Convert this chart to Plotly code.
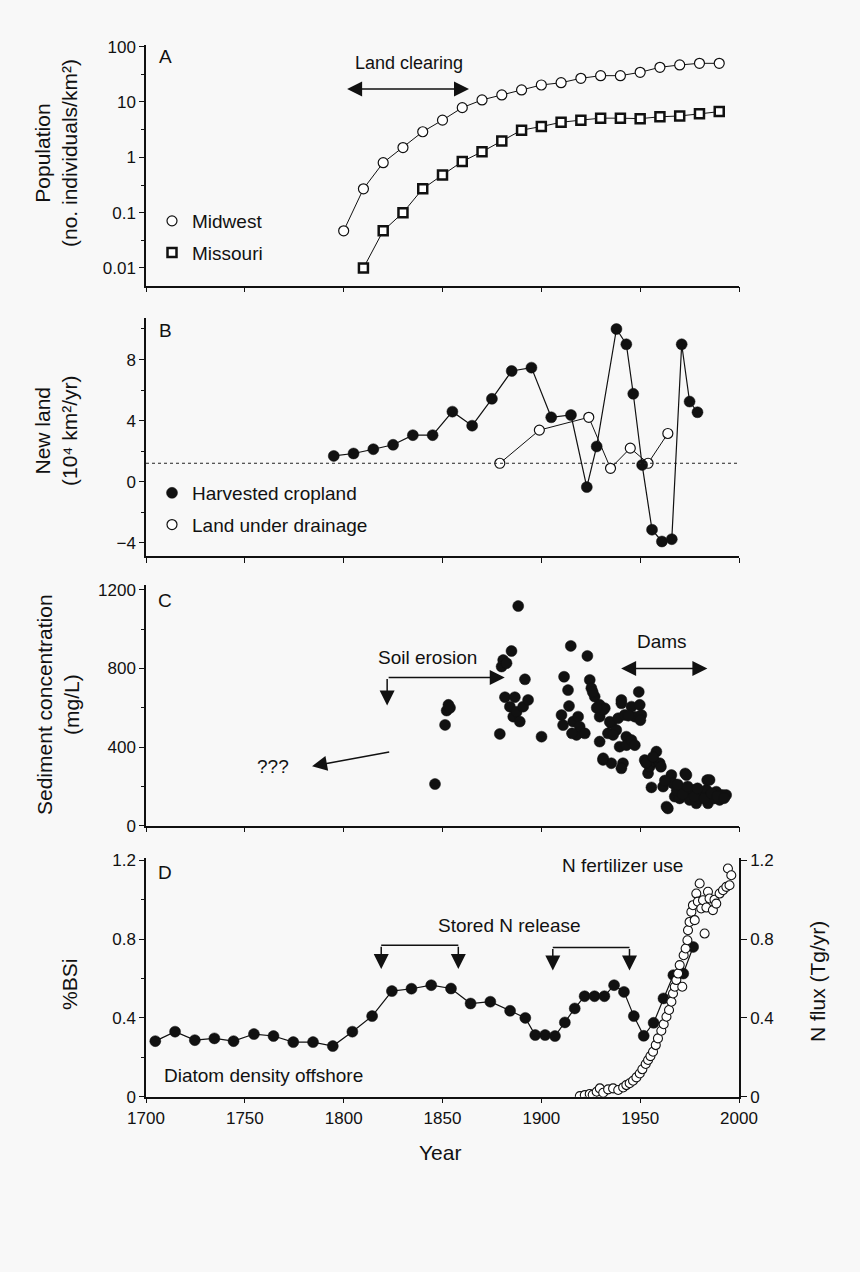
import plotly.graph_objects as go

# ---------------- DATA ----------------
# Panel A: population density (no. individuals / km2)
mw_years = [1800, 1810, 1820, 1830, 1840, 1850, 1860, 1870, 1880, 1890,
            1900, 1910, 1920, 1930, 1940, 1950, 1960, 1970, 1980, 1990]
mw_pop = [0.047, 0.27, 0.80, 1.5, 2.9, 4.7, 7.9, 10.9, 13.4, 16.5,
          20.3, 22.3, 26.8, 29.9, 29.9, 34.4, 42.4, 46.7, 50, 50]
mo_years = [1810, 1820, 1830, 1840, 1850, 1860, 1870, 1880, 1890, 1900,
            1910, 1920, 1930, 1940, 1950, 1960, 1970, 1980, 1990]
mo_pop = [0.01, 0.047, 0.1, 0.27, 0.48, 0.84, 1.26, 1.97, 3.1, 3.6,
          4.3, 4.7, 5.1, 5.1, 5.0, 5.4, 5.6, 6.1, 6.7]

# Panel B: new land (10^4 km2/yr)
crop_years = [1795, 1805, 1815, 1825, 1835, 1845, 1855, 1865, 1875, 1885, 1895,
              1905, 1915, 1923, 1928, 1938, 1943, 1946.5, 1951, 1956, 1961, 1966,
              1971, 1975, 1979]
crop_vals = [1.69, 1.85, 2.13, 2.42, 3.05, 3.05, 4.59, 3.67, 5.43, 7.25, 7.47,
             4.22, 4.37, -0.35, 2.31, 10.0, 9.0, 5.76, 1.1, -3.14, -3.91, -3.76,
             9.0, 5.25, 4.55]
drain_years = [1879, 1899, 1924, 1935, 1945, 1954, 1964]
drain_vals = [1.21, 3.38, 4.22, 0.88, 2.2, 1.21, 3.16]
ref_level_b = 1.21

# Panel C: sediment concentration (mg/L)
sed_years = [1846.2, 1851.3, 1852.1, 1853.0, 1853.8,
             1879.0, 1879.9, 1880.7, 1881.6, 1882.4, 1884.1, 1884.9, 1885.8, 1886.6,
             1887.5, 1888.3, 1889.1, 1890.8, 1891.7, 1893.3, 1900.1,
             1910.2, 1911.0, 1911.5, 1913.5, 1914.0, 1914.9, 1916.1, 1917.8, 1918.6,
             1919.4, 1922.0, 1923.3, 1924.5, 1925.3, 1927.0, 1929.5, 1929.5, 1929.5,
             1931.2, 1932.1, 1933.7, 1935.4, 1935.4, 1937.9, 1939.6, 1940.5, 1941.3,
             1943.0, 1931.3, 1934.6, 1938.9, 1940.5, 1942.2, 1945.6, 1947.3, 1949.8,
             1950.6, 1936.3, 1943.1, 1945.6, 1940.5, 1931.3, 1949.3, 1947.3, 1950.1,
             1952.3, 1954.0, 1954.8, 1955.7, 1957.6, 1958.2, 1959.9, 1961.6, 1963.3,
             1964.0, 1965.8, 1966.6, 1967.5, 1970.0, 1970.0, 1972.8, 1973.4, 1973.4,
             1975.0, 1976.8, 1978.4, 1980.1, 1981.8, 1983.5, 1983.9, 1984.3, 1985.1,
             1987.6, 1988.5, 1990.2, 1991.7, 1993.5,
             1926.0, 1928.0, 1944.0, 1953.0, 1956.5, 1960.5, 1962.5, 1968.5, 1969.0,
             1971.5, 1974.0, 1977.5, 1979.0, 1982.5, 1986.0, 1989.0, 1992.5, 1915.5]
sed_vals = [212, 513, 586, 615, 600,
            467, 810, 843, 654, 827, 606, 889, 555, 654,
            580, 1118, 530, 606, 745, 640, 453,
            563, 512, 758, 690, 609, 915, 530, 462, 555,
            504, 470, 864, 742, 700, 657, 615, 555, 428,
            335, 598, 470, 521, 318, 487, 402, 640, 318,
            453, 589, 529, 547, 623, 564, 606, 555, 615,
            564, 462, 410, 436, 292, 343, 681, 410, 537,
            334, 267, 301, 195, 325, 377, 318, 199, 97,
            88, 258, 216, 148, 190, 139, 266, 258, 165,
            131, 182, 114, 139, 156, 182, 232, 114, 233,
            139, 173, 131, 156, 156,
            680, 600, 560, 320, 350, 300, 230, 180, 210,
            160, 200, 150, 190, 140, 165, 150, 140, 470]

# Panel D: %BSi and N flux (Tg/yr)
bsi_years = [1704.7, 1714.7, 1724.7, 1734.6, 1744.3, 1754.6, 1764.5, 1774.5, 1784.5,
             1794.5, 1804.4, 1814.4, 1824.4, 1834.3, 1844.3, 1854.3, 1864.2, 1874.2,
             1884.2, 1891.9, 1896.9, 1901.9, 1906.9, 1911.9, 1916.9, 1921.9, 1926.9,
             1931.9, 1936.8, 1941.8, 1946.8, 1951.8, 1956.8, 1961.8, 1966.8, 1971.8,
             1976.8]
bsi_vals = [0.282, 0.33, 0.287, 0.296, 0.282, 0.318, 0.308, 0.277, 0.277,
            0.257, 0.33, 0.409, 0.536, 0.548, 0.566, 0.549, 0.473, 0.482,
            0.436, 0.40, 0.313, 0.313, 0.308, 0.377, 0.448, 0.51, 0.51,
            0.51, 0.566, 0.532, 0.409, 0.309, 0.375, 0.499, 0.617, 0.625,
            0.76]
nflux_years = [1919.5, 1922, 1924.5, 1926, 1928, 1929.6, 1931.3, 1933.8, 1936.3, 1938.9,
               1941.4, 1943, 1944.7, 1946.4, 1948.1, 1949.8, 1951.1, 1952.8, 1954,
               1955.2, 1956.5, 1957.9, 1959, 1960.7, 1961.9, 1963.3, 1964.6, 1965.8,
               1966.6, 1967.5, 1968.3, 1969.2, 1970, 1971.3, 1972, 1973, 1973.9, 1974.2,
               1975, 1975.9, 1976.7, 1977.6, 1978.4, 1979.2, 1980.1, 1980.9, 1981.8,
               1982.6, 1983.5, 1984.3, 1985.1, 1986.8, 1987.6, 1988.5, 1990.2, 1991.9,
               1993.6, 1994.4, 1995.2, 1996.1]
nflux_vals = [0.003, 0.008, 0.014, 0.01, 0.025, 0.042, 0.02, 0.037, 0.042, 0.034,
              0.047, 0.059, 0.068, 0.081, 0.098, 0.118, 0.139, 0.166, 0.186,
              0.206, 0.228, 0.262, 0.296, 0.335, 0.368, 0.406, 0.44, 0.482,
              0.524, 0.558, 0.592, 0.625, 0.668, 0.558, 0.718, 0.752, 0.794, 0.845,
              0.887, 0.938, 0.972, 0.896, 1.031, 0.99, 1.082, 0.955, 0.997,
              0.828, 0.96, 1.04, 1.006, 0.947, 1.0, 0.98, 1.031, 1.048,
              1.065, 1.158, 1.073, 1.124]

year_ticks = [1700, 1750, 1800, 1850, 1900, 1950, 2000]

# ---------------- STYLE ----------------
W, H = 860, 1272
ML, MR = 146, 121
FONT = "Liberation Sans, Arial, sans-serif"
INK = "#111111"
BG = "#f8f8f8"
TICK_FS = 17
ANN_FS = 19
TITLE_FS = 21

def pfy(px):
    return 1 - px / H

def pfx(px):
    return (px - ML) / (W - ML - MR)

dom = {
    1: [pfy(285.7), pfy(45)],
    2: [pfy(556), pfy(318.3)],
    3: [pfy(825.7), pfy(585)],
    4: [pfy(1096.7), pfy(858.3)],
}

fig = go.Figure()

open_marker = dict(symbol="circle", size=10, color="white", line=dict(color=INK, width=1.2))
fill_marker = dict(symbol="circle", size=11, color=INK, line=dict(color=INK, width=0.5))
square_marker = dict(symbol="square", size=9, color="white", line=dict(color=INK, width=2.5))

# Panel A
fig.add_trace(go.Scatter(x=mw_years, y=mw_pop, mode="lines+markers", xaxis="x", yaxis="y",
                         line=dict(color=INK, width=1), marker=open_marker, showlegend=False))
fig.add_trace(go.Scatter(x=mo_years, y=mo_pop, mode="lines+markers", xaxis="x", yaxis="y",
                         line=dict(color=INK, width=1), marker=square_marker, showlegend=False))
fig.add_trace(go.Scatter(x=[None], y=[None], mode="markers", name="Midwest", marker=open_marker,
                         legend="legend", legendgroup="a1", xaxis="x", yaxis="y"))
fig.add_trace(go.Scatter(x=[None], y=[None], mode="markers", name="Missouri",
                         marker=square_marker,
                         legend="legend", legendgroup="a2", xaxis="x", yaxis="y"))

# Panel B
fig.add_trace(go.Scatter(x=drain_years, y=drain_vals, mode="lines+markers", xaxis="x2", yaxis="y2",
                         line=dict(color=INK, width=1), marker=open_marker, showlegend=False))
fig.add_trace(go.Scatter(x=crop_years, y=crop_vals, mode="lines+markers", xaxis="x2", yaxis="y2",
                         line=dict(color=INK, width=1.2), marker=fill_marker, showlegend=False))
fig.add_trace(go.Scatter(x=[None], y=[None], mode="markers", name="Harvested cropland",
                         marker=fill_marker, legend="legend2", legendgroup="b1",
                         xaxis="x2", yaxis="y2"))
fig.add_trace(go.Scatter(x=[None], y=[None], mode="markers", name="Land under drainage",
                         marker=open_marker, legend="legend2", legendgroup="b2",
                         xaxis="x2", yaxis="y2"))

# Panel C
fig.add_trace(go.Scatter(x=sed_years, y=sed_vals, mode="markers", xaxis="x3", yaxis="y3",
                         marker=fill_marker, showlegend=False))

# Panel D
fig.add_trace(go.Scatter(x=nflux_years, y=nflux_vals, mode="markers", xaxis="x4", yaxis="y5",
                         marker=dict(symbol="circle", size=9, color="white",
                                     line=dict(color=INK, width=1.1)), showlegend=False))
fig.add_trace(go.Scatter(x=bsi_years, y=bsi_vals, mode="lines+markers", xaxis="x4", yaxis="y4",
                         line=dict(color=INK, width=1.2), marker=fill_marker, showlegend=False))

# ---------------- AXES ----------------
def xax(anchor, labels):
    return dict(domain=[0, 1], anchor=anchor, range=[1700, 2000], tickvals=year_ticks,
                showticklabels=labels, ticks="outside", ticklen=5, tickwidth=1.3,
                tickcolor=INK, showline=True, linecolor=INK, linewidth=1.5,
                showgrid=False, zeroline=False, automargin=False,
                tickfont=dict(family=FONT, size=TICK_FS, color=INK))

def yax(anchor, d, **kw):
    base = dict(domain=d, anchor=anchor, ticks="outside", ticklen=5, tickwidth=1.3,
                tickcolor=INK, showline=True, linecolor=INK, linewidth=1.5,
                showgrid=False, zeroline=False, automargin=False,
                tickfont=dict(family=FONT, size=TICK_FS, color=INK))
    base.update(kw)
    return base

minor_lin = lambda dt, t0: dict(ticks="outside", ticklen=3, tickwidth=1, tickcolor=INK,
                                dtick=dt, tick0=t0, showgrid=False)

fig.update_layout(
    xaxis=xax("y", False),
    xaxis2=xax("y2", False),
    xaxis3=xax("y3", False),
    xaxis4=xax("y4", True),
    yaxis=yax("x", dom[1], type="log", range=[-2.32, 2.03],
              tickvals=[0.01, 0.1, 1, 10, 100], ticktext=["0.01", "0.1", "1", "10", "100"],
              minor=dict(ticks="outside", ticklen=3, tickwidth=1, tickcolor=INK,
                         tickvals=[0.0316, 0.316, 3.16, 31.6], showgrid=False)),
    yaxis2=yax("x2", dom[2], range=[-4.86, 10.7], tickvals=[-4, 0, 4, 8],
               ticktext=["\u22124", "0", "4", "8"], minor=minor_lin(2, 0)),
    yaxis3=yax("x3", dom[3], range=[0, 1225], tickvals=[0, 400, 800, 1200],
               minor=minor_lin(200, 0)),
    yaxis4=yax("x4", dom[4], range=[0, 1.21], tickvals=[0, 0.4, 0.8, 1.2],
               ticktext=["0", "0.4", "0.8", "1.2"], minor=minor_lin(0.2, 0)),
    yaxis5=yax("x4", dom[4], overlaying="y4", side="right", range=[0, 1.21],
               tickvals=[0, 0.4, 0.8, 1.2], ticktext=["0", "0.4", "0.8", "1.2"],
               ticklen=6),
    # inner half of the crossing ticks on the right axis
    yaxis6=yax("x4", dom[4], overlaying="y4", side="right", range=[0, 1.21],
               tickvals=[0, 0.4, 0.8, 1.2], ticks="inside", ticklen=6,
               showticklabels=False, showline=False),
)

# ---------------- LEGENDS ----------------
leg_common = dict(bgcolor="rgba(0,0,0,0)", borderwidth=0, tracegroupgap=4,
                  traceorder="grouped", font=dict(family=FONT, size=ANN_FS, color=INK),
                  xanchor="left", yanchor="top", itemwidth=30)
fig.update_layout(
    legend=dict(x=pfx(152), y=pfy(202), **leg_common),
    legend2=dict(x=pfx(152), y=pfy(474), **leg_common),
)

# ---------------- ANNOTATIONS ----------------
ann = []

def text(x, y, t, xr, yr, size=ANN_FS, **kw):
    d = dict(x=x, y=y, text=t, xref=xr, yref=yr, showarrow=False,
             font=dict(family=FONT, size=size, color=INK))
    d.update(kw)
    ann.append(d)

def arrow(x, y, ax, ay, xr, yr, side="end"):
    ann.append(dict(x=x, y=y, ax=ax, ay=ay, xref=xr, yref=yr, axref=xr, ayref=yr,
                    text="", showarrow=True, arrowhead=2, arrowsize=2.0, arrowwidth=1.5,
                    arrowcolor=INK, arrowside=side, standoff=0, startstandoff=0))

# panel letters
text(1709.7, 1.82, "A", "x", "y")
text(1709.7, 9.9, "B", "x2", "y2")
text(1709.7, 1147, "C", "x3", "y3")
text(1709.7, 1.14, "D", "x4", "y4")

# Panel A
text(1833, 1.70, "Land clearing", "x", "y", size=18)
arrow(1863.4, 1.235, 1801, 1.235, "x", "y", side="end+start")

# Panel C
text(1842.6, 855, "Soil erosion", "x3", "y3")
arrow(1881.5, 754, 1822, 754, "x3", "y3")
arrow(1822, 612, 1822, 754, "x3", "y3")
text(1764, 300, "???", "x3", "y3")
arrow(1784, 303, 1823.8, 376, "x3", "y3")
text(1961, 939, "Dams", "x3", "y3")
arrow(1984, 800, 1939.6, 800, "x3", "y3", side="end+start")

# Panel D
text(1884, 0.867, "Stored N release", "x4", "y4")
text(1941, 1.175, "N fertilizer use", "x4", "y4")
text(1759.5, 0.11, "Diatom density offshore", "x4", "y4")
arrow(1819, 0.648, 1819, 0.769, "x4", "y4")
arrow(1858, 0.648, 1858, 0.769, "x4", "y4")
arrow(1905.8, 0.640, 1905.8, 0.757, "x4", "y4")
arrow(1944.6, 0.640, 1944.6, 0.757, "x4", "y4")

# axis titles
def ytitle(px_x, px_y, t):
    ann.append(dict(x=pfx(px_x), y=pfy(px_y), xref="paper", yref="paper", text=t,
                    showarrow=False, textangle=-90, xanchor="center", yanchor="middle",
                    font=dict(family=FONT, size=TITLE_FS, color=INK)))

ytitle(56, 153, "Population<br>(no. individuals/km\u00b2)")
ytitle(56, 431, "New land<br>(10\u2074 km\u00b2/yr)")
ytitle(58, 705, "Sediment concentration<br>(mg/L)")
ytitle(69, 985, "%BSi")
ytitle(817, 982, "N flux (Tg/yr)")
ann.append(dict(x=pfx(440), y=pfy(1152), xref="paper", yref="paper", text="Year",
                showarrow=False, xanchor="center", yanchor="middle",
                font=dict(family=FONT, size=TITLE_FS, color=INK)))

fig.update_layout(annotations=ann)

# ---------------- SHAPES ----------------
fig.update_layout(shapes=[
    dict(type="line", xref="x2", yref="y2", x0=1700, x1=2000, y0=ref_level_b, y1=ref_level_b,
         line=dict(color="#222222", width=1.2, dash="dot")),
    dict(type="line", xref="x4", yref="y4", x0=1819, x1=1858, y0=0.769, y1=0.769,
         line=dict(color=INK, width=1.6)),
    dict(type="line", xref="x4", yref="y4", x0=1905.8, x1=1944.6, y0=0.757, y1=0.757,
         line=dict(color=INK, width=1.6)),
])

fig.update_layout(
    width=W, height=H, template="none",
    paper_bgcolor=BG, plot_bgcolor=BG,
    margin=dict(l=ML, r=MR, t=0, b=0, autoexpand=False),
    font=dict(family=FONT, color=INK),
    showlegend=True,
)

fig.write_html("out.html", config={"displayModeBar": False},
               post_script="document.body.style.margin='0';"
                           "document.body.style.background='" + BG + "';")
